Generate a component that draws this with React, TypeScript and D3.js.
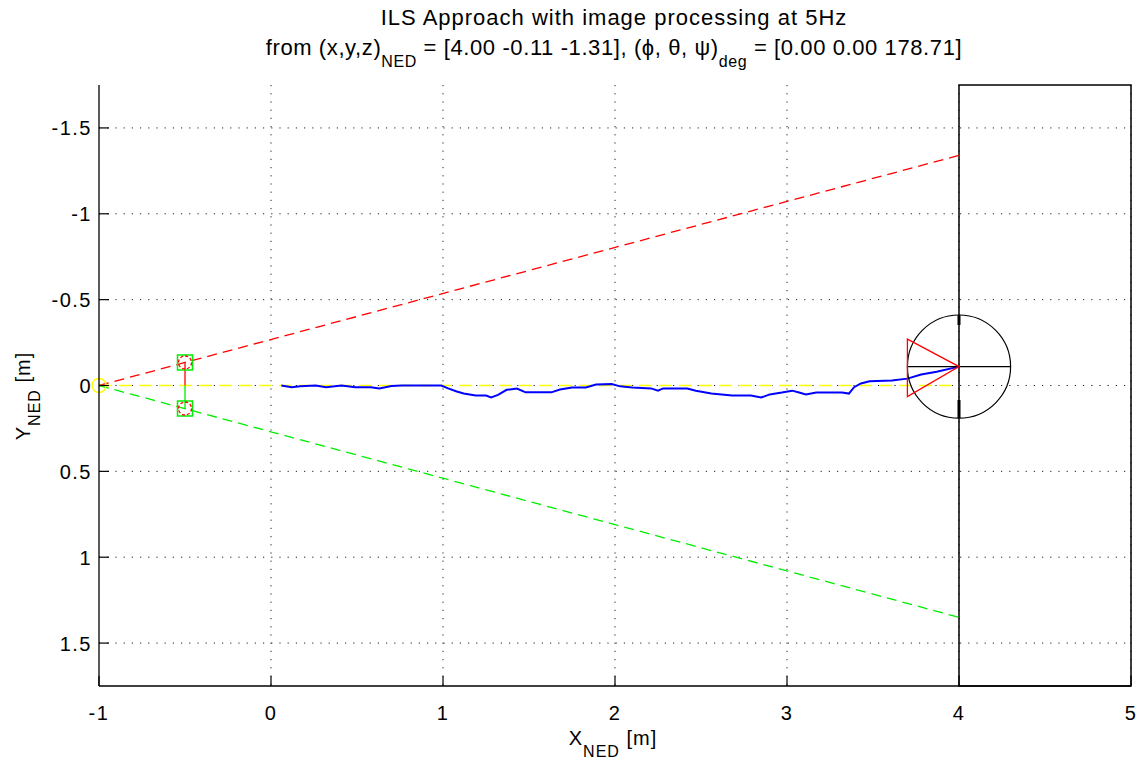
import React from "react";
import * as d3 from "d3";

const W = 1142;
const H = 765;

const xTicks = [-1, 0, 1, 2, 3, 4, 5];
const yTicks = [-1.5, -1, -0.5, 0, 0.5, 1, 1.5];
const yTickLabels = ["-1.5", "-1", "-0.5", "0", "0.5", "1", "1.5"];

// glide path boundary lines
const boundX = [-1, 4];
const redBoundY = [0, -1.34];
const greenBoundY = [0, 1.35];
const centerLineY = [0, 0];

// markers at x = -0.5
const markerX = -0.5;
const markerUpperY = -0.134;
const markerLowerY = 0.134;

// trajectory (blue)
const trajX = [0.06, 0.12, 0.17, 0.26, 0.32, 0.41, 0.49, 0.58, 0.63, 0.7, 0.76, 0.87, 0.99, 1.03, 1.08, 1.12, 1.19, 1.25, 1.28, 1.32, 1.37, 1.43, 1.48, 1.57, 1.63, 1.68, 1.75, 1.83, 1.89, 1.98, 2.03, 2.1, 2.21, 2.25, 2.28, 2.42, 2.47, 2.56, 2.68, 2.79, 2.85, 2.9, 2.97, 3.03, 3.07, 3.11, 3.17, 3.32, 3.36, 3.39, 3.43, 3.48, 3.61, 3.7, 3.78, 3.87, 4.0];
const trajY = [0, 0.01, 0.005, 0, 0.01, 0, 0.01, 0.01, 0.017, 0.003, 0, 0, 0, 0.017, 0.035, 0.047, 0.058, 0.058, 0.07, 0.055, 0.025, 0.018, 0.04, 0.04, 0.04, 0.023, 0.012, 0.012, -0.006, -0.008, 0.005, 0.012, 0.017, 0.03, 0.017, 0.017, 0.03, 0.047, 0.058, 0.058, 0.07, 0.052, 0.041, 0.03, 0.041, 0.052, 0.041, 0.041, 0.047, 0.01, -0.012, -0.025, -0.029, -0.04, -0.064, -0.08, -0.11];

// aircraft
const acX = 4.0;
const acY = -0.11;
const acR = 0.3;
const triX = [3.7, 3.7, 4.0];
const triY = [-0.27, 0.065, -0.11];
const markTopY = [-0.41, -0.352];
const markBotY = [0.084, 0.19];

// wall rectangle
const wallX = [4, 5];
const wallY = [-1.75, 1.75];

const FONT = "'Liberation Sans', Arial, Helvetica, sans-serif";

export default function App() {
  const x = d3.scaleLinear().domain([-1, 5]).range([99, 1131]);
  const y = d3.scaleLinear().domain([-1.75, 1.75]).range([85, 686]);
  const line = d3
    .line<[number, number]>()
    .x((d) => x(d[0]))
    .y((d) => y(d[1]));

  const traj: [number, number][] = trajX.map((v, i) => [v, trajY[i]]);
  const tri: [number, number][] = triX.map((v, i) => [v, triY[i]]);
  const rPx = x(acR) - x(0);

  const grid = { stroke: "#222", strokeWidth: 1, strokeDasharray: "1.2,7" };

  return (
    <svg
      width={W}
      height={H}
      style={{ position: "absolute", left: 0, top: 0, background: "#fff" }}
      fontFamily={FONT}
    >
      <rect x={0} y={0} width={W} height={H} fill="#fff" />
      {/* grid */}
      {xTicks.slice(1).map((t) => (
        <line key={"gx" + t} x1={x(t)} x2={x(t)} y1={y(-1.75)} y2={y(1.75)} {...grid} />
      ))}
      {yTicks.map((t) => (
        <line key={"gy" + t} x1={x(-1)} x2={x(5)} y1={y(t)} y2={y(t)} {...grid} />
      ))}

      {/* wall rectangle */}
      <rect
        x={x(wallX[0])}
        y={y(wallY[0])}
        width={x(wallX[1]) - x(wallX[0])}
        height={y(wallY[1]) - y(wallY[0])}
        fill="none"
        stroke="#000"
        strokeWidth={1.5}
      />

      {/* boundary lines */}
      <path d={line([[boundX[0], redBoundY[0]], [boundX[1], redBoundY[1]]])!} stroke="#ff0000" strokeWidth={1.3} fill="none" strokeDasharray="10,6" />
      <path d={line([[boundX[0], greenBoundY[0]], [boundX[1], greenBoundY[1]]])!} stroke="#00ee00" strokeWidth={1.3} fill="none" strokeDasharray="10,6" />
      <path d={line([[boundX[0], centerLineY[0]], [boundX[1], centerLineY[1]]])!} stroke="#ffff00" strokeWidth={1.5} fill="none" strokeDasharray="13,7" />

      {/* marker stems */}
      <line x1={x(markerX)} x2={x(markerX)} y1={y(markerUpperY)} y2={y(0)} stroke="#ff0000" strokeWidth={1.3} />
      <line x1={x(markerX)} x2={x(markerX)} y1={y(0)} y2={y(markerLowerY)} stroke="#00ee00" strokeWidth={1.3} />
      {[markerUpperY, markerLowerY].map((my) => (
        <g key={"m" + my}>
          <rect x={x(markerX) - 7.5} y={y(my) - 7.5} width={15} height={15} fill="none" stroke="#00ee00" strokeWidth={1.5} />
          <circle cx={x(markerX)} cy={y(my)} r={6.5} fill="none" stroke="#ff0000" strokeWidth={1.3} strokeDasharray="3,2" />
        </g>
      ))}
      <circle cx={x(-1)} cy={y(0)} r={7} fill="none" stroke="#ffff00" strokeWidth={1.5} />

      {/* trajectory */}
      <path d={line(traj)!} fill="none" stroke="#0000ff" strokeWidth={2} />

      {/* aircraft */}
      <circle cx={x(acX)} cy={y(acY)} r={rPx} fill="none" stroke="#000" strokeWidth={1.2} />
      <line x1={x(acX - acR)} x2={x(acX + acR)} y1={y(acY)} y2={y(acY)} stroke="#000" strokeWidth={1.3} />
      <line x1={x(acX)} x2={x(acX)} y1={y(markTopY[0])} y2={y(markTopY[1])} stroke="#000" strokeWidth={3} />
      <line x1={x(acX)} x2={x(acX)} y1={y(markBotY[0])} y2={y(markBotY[1])} stroke="#000" strokeWidth={3} />
      <path d={line(tri)! + "Z"} fill="none" stroke="#ff0000" strokeWidth={1.3} />

      {/* axes */}
      <line x1={x(-1)} x2={x(-1)} y1={y(-1.75)} y2={y(1.75)} stroke="#000" strokeWidth={1.3} />
      <line x1={x(-1)} x2={x(5)} y1={y(1.75)} y2={y(1.75)} stroke="#000" strokeWidth={1.3} />
      {xTicks.map((t) => (
        <g key={"xt" + t}>
          <line x1={x(t)} x2={x(t)} y1={y(1.75)} y2={y(1.75) - 10} stroke="#000" strokeWidth={1.2} />
          <text x={x(t)} y={720} textAnchor="middle" fontSize={20} letterSpacing={1.5} fill="#000">
            {String(t)}
          </text>
        </g>
      ))}
      {yTicks.map((t, i) => (
        <g key={"yt" + t}>
          <line x1={x(-1)} x2={x(-1) + 10} y1={y(t)} y2={y(t)} stroke="#000" strokeWidth={1.2} />
          <text x={92} y={y(t) + 7.5} textAnchor="end" fontSize={20} letterSpacing={1.5} fill="#000">
            {yTickLabels[i]}
          </text>
        </g>
      ))}

      {/* labels */}
      <text x={613} y={745} textAnchor="middle" fontSize={20} letterSpacing={1} fill="#000">
        X<tspan fontSize={16} dy={12}>NED</tspan>
        <tspan dy={-12}> [m]</tspan>
      </text>
      <text transform="translate(30,396) rotate(-90)" textAnchor="middle" fontSize={20} letterSpacing={1} fill="#000">
        Y<tspan fontSize={16} dy={10}>NED</tspan>
        <tspan dy={-10}> [m]</tspan>
      </text>

      {/* title */}
      <text x={614} y={25} textAnchor="middle" fontSize={22} letterSpacing={1} fill="#000">
        ILS Approach with image processing at 5Hz
      </text>
      <text x={614} y={55} textAnchor="middle" fontSize={22} letterSpacing={0.6} fill="#000">
        from (x,y,z)<tspan fontSize={16} dy={12}>NED</tspan>
        <tspan dy={-12}> = [4.00 -0.11 -1.31], (ϕ, θ, ψ)</tspan>
        <tspan fontSize={16} dy={12}>deg</tspan>
        <tspan dy={-12}> = [0.00 0.00 178.71]</tspan>
      </text>
    </svg>
  );
}
